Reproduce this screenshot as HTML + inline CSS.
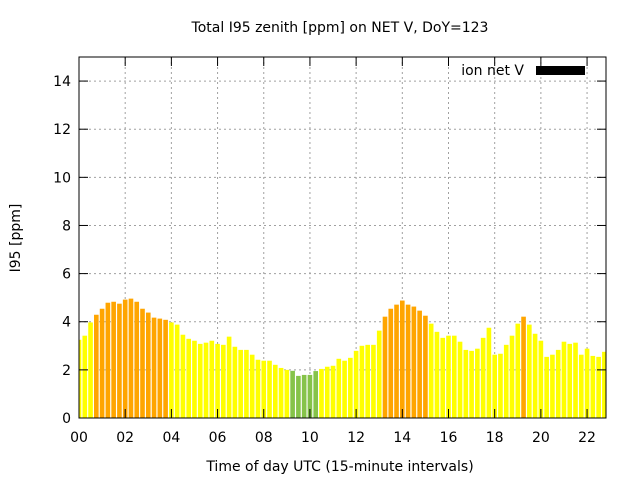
<!DOCTYPE html>
<html><head><meta charset="utf-8"><style>
body{margin:0;background:#fff}
svg text{font-family:"DejaVu Sans","Liberation Sans",sans-serif;font-size:14px;fill:#000}
</style></head><body>
<svg id="chart" width="640" height="480" viewBox="0 0 640 480" xmlns="http://www.w3.org/2000/svg">
<text x="340" y="32" text-anchor="middle">Total I95 zenith [ppm] on NET V, DoY=123</text>
<g id="grid"></g>
<g id="bars"></g>
<g id="axes"></g>
<text transform="translate(20,238) rotate(-90)" text-anchor="middle">I95 [ppm]</text>
<text x="340" y="471" text-anchor="middle">Time of day UTC (15-minute intervals)</text>
<g>
<text x="524" y="75" text-anchor="end">ion net V</text>
<rect x="536" y="66" width="49" height="9" fill="#000"/>
</g>
</svg>
<script>
const values = [3.25,3.42,3.97,4.29,4.54,4.79,4.83,4.75,4.92,4.96,4.83,4.54,4.38,4.17,4.13,4.08,
3.97,3.88,3.46,3.29,3.21,3.08,3.13,3.21,3.08,3.04,3.38,2.96,2.83,2.83,2.63,
2.42,2.38,2.38,2.21,2.08,2.0,1.96,1.75,1.79,1.79,1.95,2.04,2.13,2.17,2.46,2.38,2.5,2.79,3.0,3.04,3.04,3.63,
4.21,4.54,4.71,4.88,4.71,4.63,4.46,4.25,
3.92,3.58,3.33,3.42,3.42,3.17,2.83,2.79,2.88,3.33,3.75,2.63,2.67,3.04,3.42,3.92,4.21,3.88,3.5,3.21,
2.54,2.63,2.83,3.17,3.08,3.13,2.63,2.88,2.58,2.54,2.75];
const yTicks = [0,2,4,6,8,10,12,14];
const xTicks = ["00","02","04","06","08","10","12","14","16","18","20","22"];
const X0=79,X1=606,Y0=418,Y1=57,XMAX=22.82,YMAX=15;
const sx=t=>X0+t/XMAX*(X1-X0);
const sy=v=>Y0-v/YMAX*(Y0-Y1);
const NS="http://www.w3.org/2000/svg";
function mk(tag,attrs,parent){const e=document.createElementNS(NS,tag);for(const k in attrs)e.setAttribute(k,attrs[k]);parent.appendChild(e);return e;}
const grid=document.getElementById('grid'),bars=document.getElementById('bars'),axes=document.getElementById('axes');
yTicks.forEach(v=>{
  const y=sy(v);
  if(v>0){const g=mk('line',{x1:X0,x2:X1,y1:y,y2:y,stroke:'#a0a0a0','stroke-dasharray':'2,3'},grid);
  
  }
  const t=mk('line',{x1:X0,x2:X0+9,y1:y,y2:y,stroke:'#000'},axes);
  
  
  const t2=mk('line',{x1:X1-9,x2:X1,y1:y,y2:y,stroke:'#000'},axes);
  
  
  const l=mk('text',{x:X0-8,y:y+5,'text-anchor':'end'},axes);l.textContent=v;
  
  
});
xTicks.forEach(s=>{
  const x=sx(parseInt(s,10));
  if(parseInt(s,10)>0){const g=mk('line',{x1:x,x2:x,y1:Y1,y2:Y0,stroke:'#a0a0a0','stroke-dasharray':'2,3'},grid);
  
  }
  const t=mk('line',{x1:x,x2:x,y1:Y0,y2:Y0-9,stroke:'#000'},axes);
  
  
  const t2=mk('line',{x1:x,x2:x,y1:Y1,y2:Y1+9,stroke:'#000'},axes);
  
  
  const l=mk('text',{x:x,y:Y0+24,'text-anchor':'middle'},axes);l.textContent=s;
  
  
});
mk('clipPath',{id:'clip'},bars);
mk('rect',{x:X0,y:Y1,width:X1-X0,height:Y0-Y1},bars.lastChild);
const bg=mk('g',{'clip-path':'url(#clip)'},bars);
values.forEach((v,i)=>{
  const t=i*0.25,w=0.2;
  const x=sx(t-w/2),x2=sx(t+w/2);
  const col=v>=4?'#ffa500':(v<1.97?'#86c34a':'#ffff00');
  const r=mk('rect',{x:x,y:sy(v),width:x2-x,height:Y0-sy(v),fill:col},bg);
  
  
});
const b=mk('rect',{x:X0,y:Y1,width:X1-X0,height:Y0-Y1,fill:'none',stroke:'#000','stroke-width':1},axes);


</script>
</body></html>
